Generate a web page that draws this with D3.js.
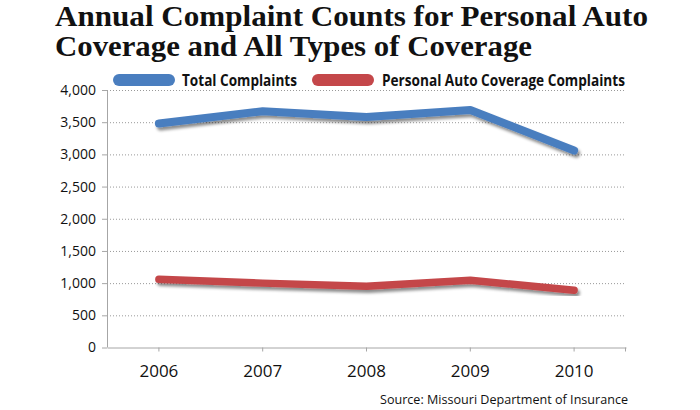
<!DOCTYPE html>
<html>
<head>
<meta charset="utf-8">
<script src="https://cdn.jsdelivr.net/npm/d3@7"></script>
<style>
  body { margin: 0; background: #fff; }
  svg { display: block; }
</style>
</head>
<body>
<svg></svg>
<script>
var w = 700;
var h = 410;

var years = ["2006", "2007", "2008", "2009", "2010"];
var totalComplaints = [3480, 3670, 3580, 3690, 3060];
var autoComplaints = [1060, 1000, 950, 1045, 890];
var yTicks = [0, 500, 1000, 1500, 2000, 2500, 3000, 3500, 4000];
var titleLines = ["Annual Complaint Counts for Personal Auto", "Coverage and All Types of Coverage"];
var legendText = ["Total Complaints", "Personal Auto Coverage Complaints"];
var colors = ["#4A7EBF", "#C4474A"];

var svg = d3.select("svg").attr("width", w).attr("height", h);

var x = d3.scaleBand().domain(years).range([107, 626]);
var y = d3.scaleLinear().domain([0, 4000]).range([347.5, 90]);

// drop shadow under the lines
var defs = svg.append("defs");
var f = defs.append("filter").attr("id", "shadow")
  .attr("x", "-10%").attr("y", "-50%").attr("width", "120%").attr("height", "200%");
f.append("feDropShadow")
  .attr("dx", 2).attr("dy", 3)
  .attr("stdDeviation", 1.6)
  .attr("flood-color", "#000")
  .attr("flood-opacity", 0.45);

// title
svg.selectAll("text.title")
  .data(titleLines)
  .enter()
  .append("text")
  .attr("class", "title")
  .attr("x", 55)
  .attr("y", (d, i) => 26 + i * 30)
  .attr("font-family", "Liberation Serif, serif")
  .attr("font-weight", "bold")
  .attr("font-size", 29)
  .attr("textLength", (d, i) => (i === 0 ? 593 : 477))
  .attr("lengthAdjust", "spacingAndGlyphs")
  .attr("fill", "#111")
  .text((d) => d);

// gridlines
svg.append("g")
  .attr("transform", "translate(107,0)")
  .call(d3.axisLeft(y).tickValues(yTicks.slice(1)).tickSize(-(626 - 107)).tickFormat(""))
  .call((g) => g.select(".domain").remove())
  .selectAll("line")
  .attr("stroke", "#999")
  .attr("stroke-dasharray", "1,2");

// y axis
var yAxis = svg.append("g")
  .attr("transform", "translate(107,0)")
  .call(d3.axisLeft(y).tickValues(yTicks).tickSize(5).tickPadding(6).tickFormat(d3.format(",")));
yAxis.select(".domain").attr("stroke", "#a6a6a6").attr("d", "M-5,90.5H0.5V347.5");
yAxis.selectAll("line").attr("stroke", "#a6a6a6");
yAxis.selectAll("text")
  .attr("font-family", "Open Sans, sans-serif")
  .attr("font-size", 14)
  .attr("fill", "#111");

// x axis
var xAxis = svg.append("g")
  .attr("transform", "translate(0,347.5)")
  .call(d3.axisBottom(x).tickSize(4).tickPadding(13).tickSizeOuter(0));
xAxis.select(".domain").attr("stroke", "#a6a6a6");
xAxis.selectAll("line").attr("stroke", "#a6a6a6");
xAxis.append("line")
  .attr("x1", x.range()[1] - 0.5).attr("x2", x.range()[1] - 0.5)
  .attr("y1", 0).attr("y2", 4)
  .attr("stroke", "#a6a6a6");
xAxis.selectAll("text")
  .attr("font-family", "Open Sans, sans-serif")
  .attr("font-size", 17)
  .attr("fill", "#111");

// lines
var line = d3.line()
  .x((d, i) => x(years[i]) + x.bandwidth() / 2)
  .y((d) => y(d));

svg.selectAll("path.series")
  .data([totalComplaints, autoComplaints])
  .enter()
  .append("path")
  .attr("class", "series")
  .attr("d", line)
  .attr("fill", "none")
  .attr("stroke", (d, i) => colors[i])
  .attr("stroke-width", (d, i) => (i === 0 ? 8 : 7.5))
  .attr("stroke-linecap", "round")
  .attr("stroke-linejoin", "round")
  .attr("filter", "url(#shadow)");

// legend
var legendX = [113, 312];
var legendTextX = [182, 382];
var legendTextW = [115, 243];
var legend = svg.selectAll("g.legend")
  .data(legendText)
  .enter()
  .append("g")
  .attr("class", "legend");

legend.append("rect")
  .attr("x", (d, i) => legendX[i])
  .attr("y", 74)
  .attr("width", 62)
  .attr("height", 12)
  .attr("rx", 6)
  .style("fill", (d, i) => colors[i]);

legend.append("text")
  .attr("x", (d, i) => legendTextX[i])
  .attr("y", 85.5)
  .attr("font-family", "Open Sans, sans-serif")
  .attr("font-weight", "bold")
  .attr("font-size", 15.5)
  .attr("textLength", (d, i) => legendTextW[i])
  .attr("lengthAdjust", "spacingAndGlyphs")
  .attr("fill", "#111")
  .text((d) => d);

// source
svg.append("text")
  .attr("x", 628)
  .attr("y", 404)
  .attr("text-anchor", "end")
  .attr("font-family", "Open Sans, sans-serif")
  .attr("font-size", 13.5)
  .attr("textLength", 248)
  .attr("lengthAdjust", "spacingAndGlyphs")
  .attr("fill", "#111")
  .text("Source: Missouri Department of Insurance");
</script>
</body>
</html>
